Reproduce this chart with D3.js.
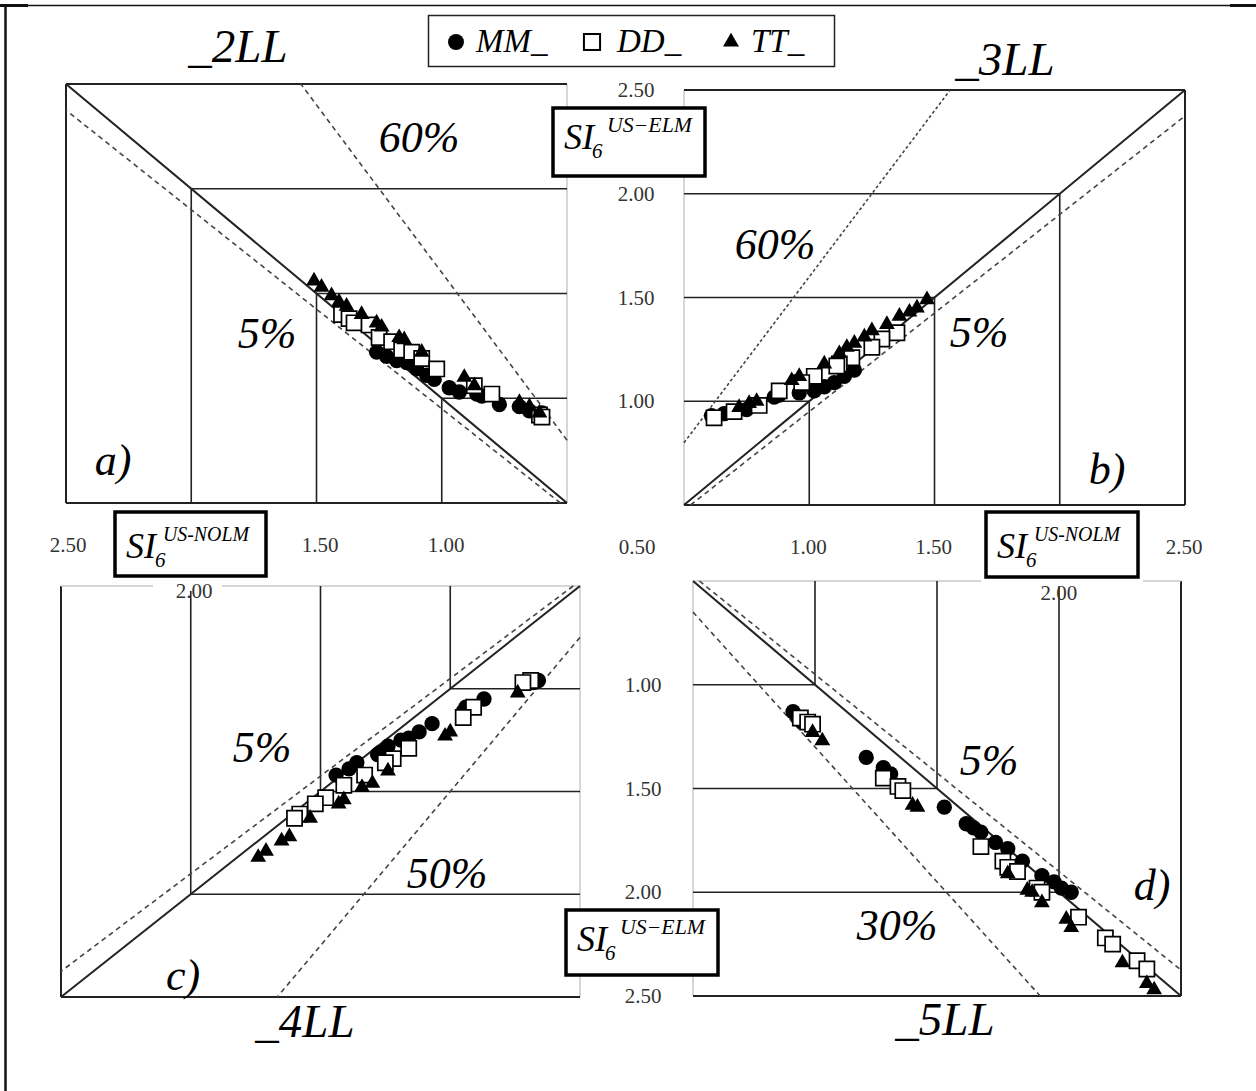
<!DOCTYPE html>
<html>
<head>
<meta charset="utf-8">
<script src="https://cdn.jsdelivr.net/npm/d3@7"></script>
<style>
body { margin: 0; background: #fff; }
svg { display: block; }
</style>
</head>
<body>
<svg id="chart" width="1256" height="1091"></svg>
<script>
// DATA
var tickValues = [0.5, 1.0, 1.5, 2.0, 2.5];
var gridValues = [1.0, 1.5, 2.0];
var seriesNames = ['MM_', 'DD_', 'TT_'];
var panelTitles = ['_2LL', '_3LL', '_4LL', '_5LL'];
var panelLetters = ['a)', 'b)', 'c)', 'd)'];
var wideSlopes = [1.6, 1.6, 1.5, 1.3];      // wide band lines y = k*x
var wideLabels = ['60%', '60%', '50%', '30%'];
var narrowSlope = 0.95;                      // 5% line
var narrowLabel = '5%';

// points [SI6 US-NOLM, SI6 US-ELM]
var mmA = [[1.26,1.22],[1.22,1.20],[1.18,1.18],[1.14,1.17],[1.10,1.14],[1.06,1.11],[1.03,1.09],[0.97,1.05],[0.93,1.03],[0.86,1.02],[0.84,1.01],[0.77,0.97],[0.69,0.96],[0.65,0.94],[0.60,0.93]];
var ddA = [[1.40,1.40],[1.37,1.38],[1.35,1.36],[1.29,1.35],[1.25,1.29],[1.20,1.27],[1.16,1.23],[1.12,1.22],[1.08,1.19],[1.02,1.14],[0.87,1.06],[0.80,1.02],[0.61,0.92],[0.60,0.91]];
var ttA = [[1.51,1.56],[1.48,1.53],[1.44,1.49],[1.41,1.46],[1.38,1.44],[1.32,1.40],[1.26,1.36],[1.24,1.34],[1.17,1.29],[1.15,1.28],[1.08,1.22],[0.91,1.10],[0.87,1.06],[0.69,0.98],[0.65,0.96],[0.61,0.93]];

var mmB = [[1.18,1.15],[1.14,1.12],[1.10,1.09],[1.06,1.07],[1.02,1.05],[0.96,1.04],[0.88,1.03],[0.86,1.02],[0.75,0.96],[0.70,0.95],[0.66,0.94],[0.61,0.93]];
var ddB = [[1.35,1.33],[1.29,1.30],[1.25,1.26],[1.17,1.21],[1.12,1.18],[1.11,1.17],[1.02,1.12],[0.97,1.09],[0.88,1.05],[0.80,0.98],[0.70,0.95],[0.62,0.92]];
var ttB = [[1.47,1.49],[1.43,1.45],[1.40,1.43],[1.36,1.41],[1.31,1.37],[1.25,1.34],[1.22,1.31],[1.18,1.28],[1.15,1.26],[1.12,1.23],[1.06,1.18],[0.96,1.12],[0.93,1.10],[0.79,1.00],[0.76,0.99],[0.72,0.97]];

var mmC = [[0.66,0.96],[0.68,0.97],[0.87,1.05],[0.94,1.09],[0.95,1.11],[1.07,1.17],[1.12,1.21],[1.16,1.24],[1.19,1.25],[1.24,1.28],[1.27,1.31],[1.28,1.32],[1.36,1.36],[1.39,1.39],[1.44,1.42]];
var ddC = [[0.69,0.96],[0.72,0.97],[0.91,1.09],[0.95,1.14],[1.16,1.29],[1.22,1.34],[1.25,1.36],[1.33,1.42],[1.41,1.47],[1.48,1.53],[1.52,1.56],[1.58,1.61],[1.60,1.63]];
var ttC = [[0.74,1.02],[1.00,1.21],[1.02,1.23],[1.24,1.40],[1.30,1.46],[1.34,1.48],[1.41,1.54],[1.43,1.56],[1.54,1.63],[1.62,1.72],[1.65,1.74],[1.71,1.79],[1.74,1.82]];

var mmD = [[0.91,1.13],[0.93,1.16],[0.95,1.18],[1.21,1.35],[1.28,1.40],[1.31,1.43],[1.53,1.59],[1.62,1.67],[1.65,1.69],[1.68,1.71],[1.74,1.76],[1.79,1.79],[1.85,1.85],[1.93,1.92],[1.98,1.95],[2.01,1.98],[2.05,2.00]];
var ddD = [[0.94,1.16],[0.97,1.18],[0.99,1.19],[1.28,1.45],[1.34,1.49],[1.36,1.51],[1.68,1.78],[1.77,1.85],[1.79,1.88],[1.83,1.90],[1.91,1.98],[1.93,2.00],[2.08,2.12],[2.19,2.22],[2.22,2.25],[2.32,2.33],[2.36,2.37]];
var ttD = [[0.99,1.23],[1.03,1.27],[1.40,1.58],[1.42,1.59],[1.79,1.91],[1.87,1.99],[1.89,2.00],[1.93,2.05],[2.03,2.13],[2.05,2.17],[2.26,2.34],[2.36,2.44],[2.39,2.47]];

// LAYOUT (pixel positions of value 0.5 and 2.5 on each axis)
var panels = [
    {x05: 567, x25: 66,   y05: 503, y25: 84,  grey: ['x05'],        mm: mmA, dd: ddA, tt: ttA, wideDash: '5,4',
     title: [238, 62],   letter: [113, 475], wide: [419, 152], narrow: [267, 348]},
    {x05: 684, x25: 1185, y05: 505, y25: 90,  grey: ['x05'],        mm: mmB, dd: ddB, tt: ttB, wideDash: '3,2.5',
     title: [1005, 75],  letter: [1107, 484], wide: [775, 259], narrow: [979, 347]},
    {x05: 580, x25: 61,   y05: 586, y25: 997, grey: ['x05', 'y05'], mm: mmC, dd: ddC, tt: ttC, wideDash: '5,4',
     title: [305, 1037], letter: [183, 990], wide: [447, 888], narrow: [262, 762]},
    {x05: 693, x25: 1181, y05: 581, y25: 996, grey: ['x05', 'y05'], mm: mmD, dd: ddD, tt: ttD, wideDash: '5,4',
     title: [945, 1035], letter: [1152, 900], wide: [897, 940], narrow: [989, 775]}
];

var serif = '"Liberation Serif", "Times New Roman", serif';
var svg = d3.select('#chart');

// outer frame
svg.append('line').attr('x1', 5).attr('y1', 5.5).attr('x2', 1256).attr('y2', 5.5)
    .attr('stroke', '#111').attr('stroke-width', 1.5);
svg.append('line').attr('x1', 0).attr('y1', 5.5).attr('x2', 28).attr('y2', 5.5)
    .attr('stroke', '#111').attr('stroke-width', 3);
svg.append('line').attr('x1', 1230).attr('y1', 5.5).attr('x2', 1256).attr('y2', 5.5)
    .attr('stroke', '#111').attr('stroke-width', 3);
svg.append('line').attr('x1', 5.5).attr('y1', 4).attr('x2', 5.5).attr('y2', 1091)
    .attr('stroke', '#111').attr('stroke-width', 2.5);

function lineEnds(k){
    // y = k*x clipped to [0.5, 2.5] square
    var x0 = Math.max(0.5, 0.5 / k), x1 = Math.min(2.5, 2.5 / k);
    return [[x0, k * x0], [x1, k * x1]];
}

var symCircle = d3.symbol().type(d3.symbolCircle).size(185);
var symSquare = d3.symbol().type(d3.symbolSquare).size(230);
var symTri = d3.symbol().type(d3.symbolTriangle).size(108);

panels.forEach(function(p, i){
    var x = d3.scaleLinear().domain([0.5, 2.5]).range([p.x05, p.x25]);
    var y = d3.scaleLinear().domain([0.5, 2.5]).range([p.y05, p.y25]);
    var g = svg.append('g');

    // panel frame sides
    var sides = [
        {id: 'x05', x1: x(0.5), y1: y(0.5), x2: x(0.5), y2: y(2.5)},
        {id: 'x25', x1: x(2.5), y1: y(0.5), x2: x(2.5), y2: y(2.5)},
        {id: 'y05', x1: x(0.5), y1: y(0.5), x2: x(2.5), y2: y(0.5)},
        {id: 'y25', x1: x(0.5), y1: y(2.5), x2: x(2.5), y2: y(2.5)}
    ];
    sides.forEach(function(s){
        var isGrey = p.grey.indexOf(s.id) >= 0;
        g.append('line').attr('x1', s.x1).attr('y1', s.y1).attr('x2', s.x2).attr('y2', s.y2)
            .attr('stroke', isGrey ? '#c8c8c8' : '#222')
            .attr('stroke-width', isGrey ? 1.5 : 2);
    });

    // staircase grid lines from the diagonal to the 0.5 axes
    gridValues.forEach(function(v){
        g.append('path')
            .attr('d', 'M' + x(0.5) + ',' + y(v) + 'H' + x(v) + 'V' + y(0.5))
            .attr('fill', 'none').attr('stroke', '#222').attr('stroke-width', 1.6);
    });

    // y = x
    g.append('line').attr('x1', x(0.5)).attr('y1', y(0.5)).attr('x2', x(2.5)).attr('y2', y(2.5))
        .attr('stroke', '#222').attr('stroke-width', 2);

    // 5% and wide band lines
    [[narrowSlope, '5,4'], [wideSlopes[i], p.wideDash]].forEach(function(l){
        var e = lineEnds(l[0]);
        g.append('line')
            .attr('x1', x(e[0][0])).attr('y1', y(e[0][1]))
            .attr('x2', x(e[1][0])).attr('y2', y(e[1][1]))
            .attr('stroke', '#444').attr('stroke-width', 1.6)
            .attr('stroke-dasharray', l[1]);
    });

    // markers: circles, squares, triangles
    g.selectAll('.mm').data(p.mm).enter().append('path')
        .attr('d', symCircle)
        .attr('transform', function(d){ return 'translate(' + x(d[0]) + ',' + y(d[1]) + ')'; })
        .attr('fill', '#000');
    g.selectAll('.dd').data(p.dd).enter().append('path')
        .attr('d', symSquare)
        .attr('transform', function(d){ return 'translate(' + x(d[0]) + ',' + y(d[1]) + ')'; })
        .attr('fill', '#fff').attr('stroke', '#000').attr('stroke-width', 1.7);
    g.selectAll('.tt').data(p.tt).enter().append('path')
        .attr('d', symTri)
        .attr('transform', function(d){ return 'translate(' + x(d[0]) + ',' + y(d[1]) + ')'; })
        .attr('fill', '#000');

    // texts
    function label(txt, pos, size){
        g.append('text').attr('x', pos[0]).attr('y', pos[1])
            .attr('text-anchor', 'middle')
            .style('font-family', serif).style('font-style', 'italic')
            .style('font-size', size + 'px').attr('fill', '#000')
            .text(txt);
    }
    label(panelTitles[i], p.title, 47);
    label(panelLetters[i], p.letter, 44);
    label(wideLabels[i], p.wide, 44);
    label(narrowLabel, p.narrow, 44);

    p.xs = x; p.ys = y;
});

// tick labels
function tick(txt, px, py){
    svg.append('text').attr('x', px).attr('y', py + 7)
        .attr('text-anchor', 'middle')
        .style('font-family', serif).style('font-size', '21px')
        .attr('fill', '#333').text(txt);
}
var fmt = d3.format('.2f');
var yTop = panels[1].ys, yBottom = panels[3].ys;
var xLeftLabels = d3.scaleLinear().domain([0.5, 2.5]).range([572, 68]);
var xRight = panels[1].xs;

// white gaps behind the 2.00 labels on the grey panel tops
svg.append('rect').attr('x', 153).attr('y', 583).attr('width', 69).attr('height', 8).attr('fill', '#fff');
svg.append('rect').attr('x', 981).attr('y', 578).attr('width', 162).attr('height', 8).attr('fill', '#fff');

tickValues.forEach(function(v){
    if (v > 0.5) {
        tick(fmt(v), 636, yTop(v));
        tick(fmt(v), 643, yBottom(v));
        tick(fmt(v), xLeftLabels(v), v === 2.0 ? 591 : 545);
        tick(fmt(v), xRight(v) - 1, v === 2.0 ? 593 : 547);
    } else {
        tick(fmt(v), 637, 547);
    }
});

// axis title boxes
function siBox(bx, by, bw, bh, sup, nolm){
    var g = svg.append('g');
    g.append('rect').attr('x', bx).attr('y', by).attr('width', bw).attr('height', bh)
        .attr('fill', '#fff').attr('stroke', '#000').attr('stroke-width', 3.5);
    var base = nolm ? 46 : 41;
    g.append('text').attr('x', bx + 11).attr('y', by + base)
        .style('font-family', serif).style('font-style', 'italic').style('font-size', '36px')
        .attr('fill', '#000').text('SI');
    g.append('text').attr('x', bx + (nolm ? 40 : 39)).attr('y', by + base + 9)
        .style('font-family', serif).style('font-style', 'italic').style('font-size', '21px')
        .attr('fill', '#000').text('6');
    g.append('text').attr('x', bx + (nolm ? 48 : 54)).attr('y', by + (nolm ? 29 : 24))
        .attr('textLength', nolm ? 86 : 85).attr('lengthAdjust', 'spacingAndGlyphs')
        .style('font-family', serif).style('font-style', 'italic').style('font-size', '20px')
        .attr('fill', '#000').text(sup);
}
siBox(553, 108, 152, 68, 'US\u2212ELM', false);
siBox(115, 512, 151, 64, 'US-NOLM', true);
siBox(986, 512, 152, 65, 'US-NOLM', true);
siBox(566, 910, 152, 65, 'US\u2212ELM', false);

// legend
var lg = svg.append('g');
lg.append('rect').attr('x', 428.5).attr('y', 15.5).attr('width', 406).attr('height', 51)
    .attr('fill', '#fff').attr('stroke', '#222').attr('stroke-width', 1.5);
var legendSym = [
    {sym: d3.symbol().type(d3.symbolCircle).size(200), fill: '#000', stroke: 'none', cx: 456, tx: 476},
    {sym: d3.symbol().type(d3.symbolSquare).size(260), fill: '#fff', stroke: '#000', cx: 592, tx: 617},
    {sym: d3.symbol().type(d3.symbolTriangle).size(110), fill: '#000', stroke: 'none', cx: 731, tx: 751}
];
seriesNames.forEach(function(name, i){
    var s = legendSym[i];
    lg.append('path').attr('d', s.sym).attr('transform', 'translate(' + s.cx + ',42)')
        .attr('fill', s.fill).attr('stroke', s.stroke).attr('stroke-width', 2);
    lg.append('text').attr('x', s.tx).attr('y', 52)
        .style('font-family', serif).style('font-style', 'italic').style('font-size', '33px')
        .attr('fill', '#000').text(name);
});
</script>
</body>
</html>
